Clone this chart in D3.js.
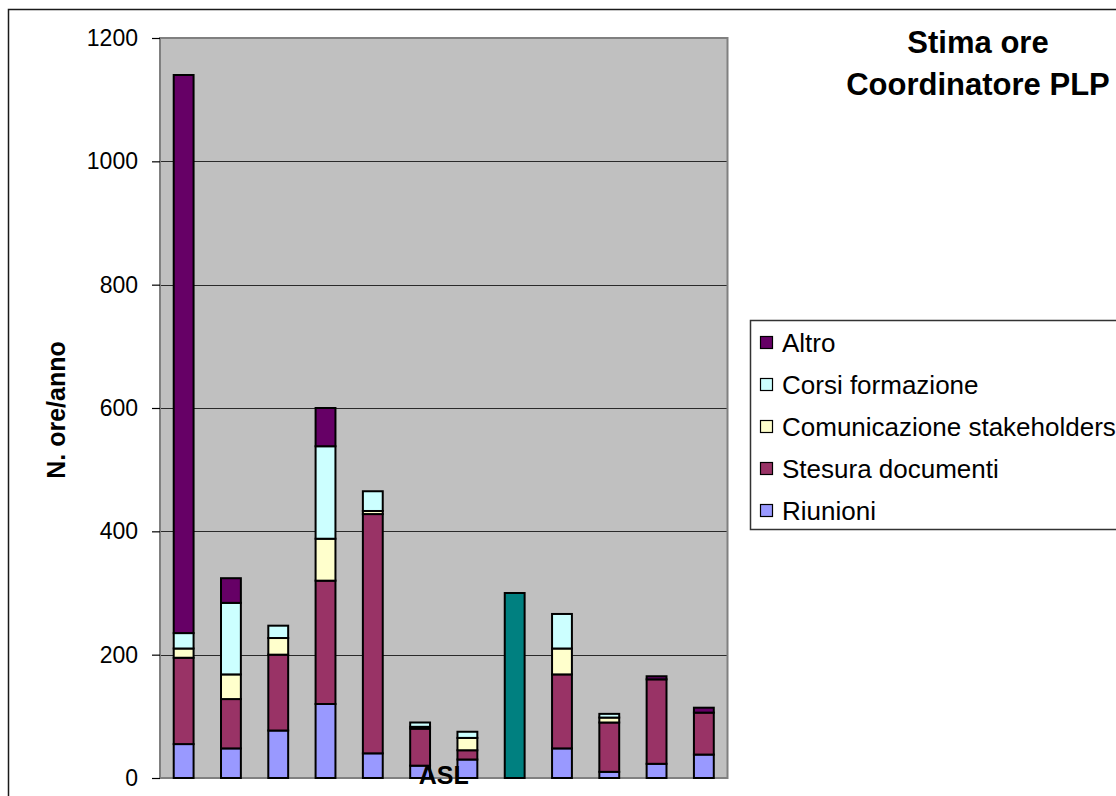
<!DOCTYPE html>
<html>
<head>
<meta charset="utf-8">
<script src="https://cdn.jsdelivr.net/npm/d3@7"></script>
<style>
  html, body { margin: 0; padding: 0; background: #fff; }
  svg { display: block; font-family: "Liberation Sans", Arial, sans-serif; }
</style>
</head>
<body>
<svg id="chart" width="1116" height="796"></svg>
<script>
// Hours per year by activity, one value per ASL
const categories = ["ASL 1", "ASL 2", "ASL 3", "ASL 4", "ASL 5", "ASL 6",
                    "ASL 7", "ASL 8", "ASL 9", "ASL 10", "ASL 11", "ASL 12"];
const riunioni      = [55, 48, 77, 120, 40, 20, 30, 0, 48, 10, 23, 38];
const stesura       = [140, 80, 123, 200, 388, 60, 15, 0, 120, 80, 137, 68];
const comunicazione = [15, 40, 27, 68, 5, 3, 20, 0, 42, 8, 0, 0];
const corsi         = [25, 116, 20, 150, 32, 7, 10, 0, 56, 6, 0, 0];
const altro         = [905, 40, 0, 62, 0, 0, 0, 0, 0, 0, 5, 8];
// total reported without breakdown
const nonRipartito  = [0, 0, 0, 0, 0, 0, 0, 300, 0, 0, 0, 0];

const yTicks = [0, 200, 400, 600, 800, 1000, 1200];

const series = [
  { key: "Riunioni", values: riunioni, color: "#9999FF", legend: true },
  { key: "Stesura documenti", values: stesura, color: "#993366", legend: true },
  { key: "Comunicazione stakeholders", values: comunicazione, color: "#FFFFCC", legend: true },
  { key: "Corsi formazione", values: corsi, color: "#CCFFFF", legend: true },
  { key: "Altro", values: altro, color: "#660066", legend: true },
  { key: "Non ripartito", values: nonRipartito, color: "#008080", legend: false }
];

const rows = categories.map((c, i) => {
  const r = { cat: c };
  series.forEach(s => { r[s.key] = s.values[i]; });
  return r;
});

const svg = d3.select("#chart");

// outer chart frame
svg.append("rect")
  .attr("x", 8.5).attr("y", 9.5)
  .attr("width", 1200).attr("height", 900)
  .attr("fill", "#fff").attr("stroke", "#1a1a1a").attr("stroke-width", 1.5);

const plot = { left: 160, right: 727.5, top: 38, bottom: 778 };

const x = d3.scaleBand()
  .domain(categories)
  .range([plot.left, plot.right])
  .paddingInner(0.58)
  .paddingOuter(0.29);

const y = d3.scaleLinear()
  .domain([0, 1200])
  .range([plot.bottom, plot.top]);

// plot background
svg.append("rect")
  .attr("x", plot.left).attr("y", plot.top)
  .attr("width", plot.right - plot.left).attr("height", plot.bottom - plot.top)
  .attr("fill", "#C0C0C0");

// gridlines
svg.append("g")
  .selectAll("line")
  .data(yTicks.filter(t => t > 0 && t < 1200))
  .join("line")
  .attr("x1", plot.left).attr("x2", plot.right)
  .attr("y1", d => Math.round(y(d)) + 0.5).attr("y2", d => Math.round(y(d)) + 0.5)
  .attr("stroke", "#2a2a2a").attr("stroke-width", 1);

// plot border
svg.append("rect")
  .attr("x", plot.left).attr("y", plot.top)
  .attr("width", plot.right - plot.left).attr("height", plot.bottom - plot.top)
  .attr("fill", "none").attr("stroke", "#808080").attr("stroke-width", 2);

// stacked bars
const stack = d3.stack().keys(series.map(s => s.key));
const layers = stack(rows);

svg.append("g")
  .selectAll("g")
  .data(layers)
  .join("g")
  .attr("fill", (d, i) => series[i].color)
  .selectAll("rect")
  .data(d => d.filter(p => p[1] - p[0] > 0))
  .join("rect")
  .attr("x", d => x(d.data.cat))
  .attr("width", x.bandwidth())
  .attr("y", d => y(d[1]))
  .attr("height", d => y(d[0]) - y(d[1]))
  .attr("stroke", "#000")
  .attr("stroke-width", 2);

// y axis
const yAxis = d3.axisLeft(y)
  .tickValues(yTicks)
  .tickFormat(d3.format("d"))
  .tickSize(8)
  .tickPadding(14);

const gy = svg.append("g")
  .attr("transform", `translate(${plot.left},0)`)
  .call(yAxis);
gy.select(".domain").remove();
gy.selectAll(".tick line").attr("stroke", "#000").attr("stroke-width", 1.2);
gy.selectAll(".tick text")
  .attr("font-size", 23)
  .attr("font-family", "Liberation Sans, Arial, sans-serif")
  .attr("fill", "#000");

// axis titles
svg.append("text")
  .attr("transform", `translate(65,410) rotate(-90)`)
  .attr("text-anchor", "middle")
  .attr("font-size", 25)
  .attr("font-weight", "bold")
  .text("N. ore/anno");

svg.append("text")
  .attr("x", (plot.left + plot.right) / 2)
  .attr("y", 784)
  .attr("text-anchor", "middle")
  .attr("font-size", 25)
  .attr("font-weight", "bold")
  .text("ASL");

// title
const title = svg.append("text")
  .attr("text-anchor", "middle")
  .attr("font-size", 31)
  .attr("font-weight", "bold");
title.append("tspan").attr("x", 978).attr("y", 53).text("Stima ore");
title.append("tspan").attr("x", 978).attr("y", 95).text("Coordinatore PLP");

// legend
svg.append("rect")
  .attr("x", 750.5).attr("y", 320.5)
  .attr("width", 420).attr("height", 209)
  .attr("fill", "#fff").attr("stroke", "#333").attr("stroke-width", 1.5);

const legendItems = series.filter(s => s.legend).slice().reverse();
const lg = svg.append("g")
  .selectAll("g")
  .data(legendItems)
  .join("g")
  .attr("transform", (d, i) => `translate(760,${343 + i * 42})`);

lg.append("rect")
  .attr("x", 0.5).attr("y", -6.5)
  .attr("width", 12).attr("height", 12)
  .attr("fill", d => d.color)
  .attr("stroke", "#000").attr("stroke-width", 1.2);

lg.append("text")
  .attr("x", 22).attr("y", 0)
  .attr("dy", "0.35em")
  .attr("font-size", 26)
  .attr("fill", "#000")
  .text(d => d.key);
</script>
</body>
</html>
